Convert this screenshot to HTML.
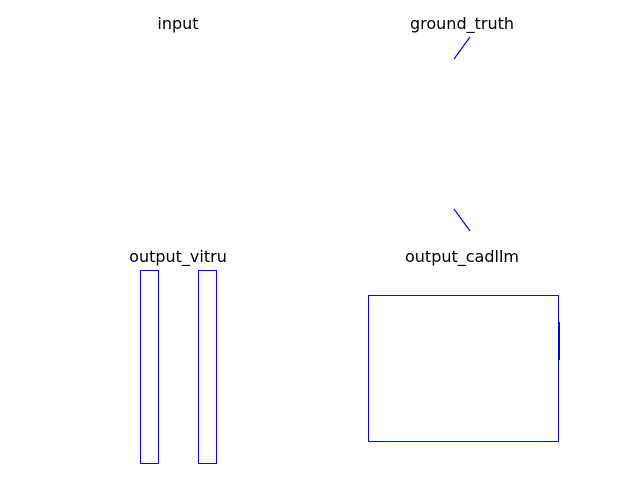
<!DOCTYPE html>
<html><head><meta charset="utf-8"><style>
body{margin:0;background:#fff}
svg text{font-family:"DejaVu Sans","Liberation Sans",sans-serif;font-size:16px;fill:#000}
</style></head><body>
<svg width="640" height="480" viewBox="0 0 640 480">
<rect width="640" height="480" fill="#fff"/>
<text x="178" y="29" text-anchor="middle">input</text>
<text x="462" y="29" text-anchor="middle">ground_truth</text>
<text x="178" y="262" text-anchor="middle">output_vitru</text>
<text x="462" y="262" text-anchor="middle">output_cadllm</text>
<g id="marks"></g>
</svg>
<script>
const gtSegments=[[470,37,454,59],[454,209,470,231]];
const vitruRects=[[140.5,270.5,158.5,463.5],[198.5,270.5,216.5,463.5]];
const cadllmRects=[[368.5,295.5,558.5,441.5]];
const cadllmSegments=[[559,322,559,360]];
const g=document.getElementById('marks');
const NS='http://www.w3.org/2000/svg';
function line(s,name,w){const l=document.createElementNS(NS,'line');
l.setAttribute('x1',s[0]);l.setAttribute('y1',s[1]);l.setAttribute('x2',s[2]);l.setAttribute('y2',s[3]);
l.setAttribute('stroke','#0000ff');l.setAttribute('stroke-width',w);


g.appendChild(l);}
function rect(r,name){const e=document.createElementNS(NS,'rect');
e.setAttribute('x',r[0]);e.setAttribute('y',r[1]);e.setAttribute('width',r[2]-r[0]);e.setAttribute('height',r[3]-r[1]);
e.setAttribute('fill','none');e.setAttribute('stroke','#0000ff');e.setAttribute('stroke-width',1);


g.appendChild(e);}
gtSegments.forEach(s=>line(s,'ground-truth-segment',1.2));
vitruRects.forEach(r=>rect(r,'vitru-rect'));
cadllmRects.forEach(r=>rect(r,'cadllm-rect'));
cadllmSegments.forEach(s=>line(s,'cadllm-segment',2));
</script>
</body></html>
